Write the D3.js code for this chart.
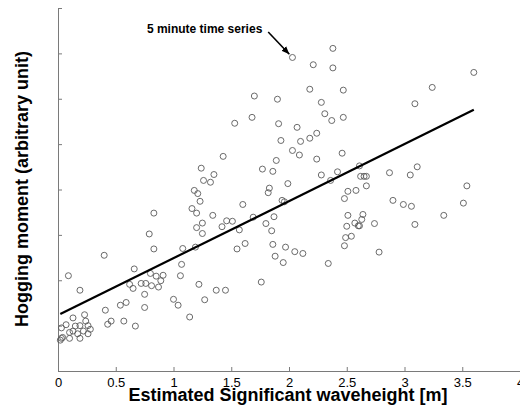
<!DOCTYPE html>
<html>
<head>
<meta charset="utf-8">
<script src="https://cdn.jsdelivr.net/npm/d3@7"></script>
<style>
body { margin: 0; background: #fff; }
svg { display: block; font-family: "Liberation Sans", Arial, sans-serif; }
</style>
</head>
<body>
<svg width="520" height="407"></svg>
<script>
// significant waveheight [m] for each 5 minute series
var waveHeight = [
  2.03, 2.38, 2.21, 2.38, 3.60, 3.24, 3.09, 2.18, 2.47, 1.70,
  1.90, 2.28, 2.31, 2.37, 2.47, 1.68, 1.53, 1.91, 2.07, 2.24,
  2.18, 2.10, 1.93, 2.03, 2.09, 2.46, 1.43, 2.24, 1.89, 1.24,
  1.77, 1.86, 1.35, 1.26, 1.32, 2.28, 2.42, 2.36, 1.99, 1.83,
  1.82, 2.61, 2.62, 2.65, 2.67, 2.87, 3.11, 3.05, 2.67, 2.51,
  2.58, 3.54, 1.18, 1.21, 1.23, 1.16, 1.20, 1.60, 1.94, 1.96,
  2.48, 2.90, 2.99, 3.06, 3.51, 0.83, 1.34, 1.46, 1.51, 1.42,
  1.57, 1.69, 1.87, 1.80, 1.85, 1.25, 1.25, 1.20, 0.79, 3.34,
  3.09, 2.51, 2.64, 2.63, 2.57, 2.60, 2.61, 2.50, 2.74, 2.49,
  2.54, 2.48, 2.78, 1.62, 1.55, 1.86, 1.97, 2.05, 2.12, 1.88,
  1.95, 2.34, 0.83, 1.08, 1.19, 0.40, 0.66, 1.07, 0.09, 1.06,
  0.80, 0.85, 0.91, 0.89, 0.72, 0.76, 0.81, 0.87, 0.62, 0.65,
  0.19, 0.75, 1.00, 1.04, 0.59, 0.54, 0.75, 0.41, 1.14, 1.22,
  1.27, 1.37, 1.45, 1.76, 0.43, 0.46, 0.57, 0.67, 0.13, 0.23,
  0.24, 0.07, 0.03, 0.15, 0.19, 0.26, 0.28, 0.13, 0.22, 0.17,
  0.26, 0.10, 0.03, 0.04, 0.10, 0.19, 0.02
];

// hogging moment (arbitrary unit)
var hogging = [
  6.91, 7.11, 6.75, 6.68, 6.58, 6.25, 5.89, 6.21, 6.19, 6.06,
  5.99, 5.92, 5.67, 5.52, 5.59, 5.59, 5.46, 5.45, 5.37, 5.24,
  5.13, 5.06, 5.08, 4.86, 4.76, 4.80, 4.73, 4.67, 4.64, 4.47,
  4.45, 4.40, 4.33, 4.20, 4.16, 4.32, 4.39, 4.20, 4.13, 4.03,
  3.93, 4.52, 4.29, 4.29, 4.29, 4.37, 4.50, 4.32, 4.08, 3.96,
  3.98, 4.08, 3.98, 3.91, 3.74, 3.58, 3.48, 3.67, 3.76, 3.73,
  3.80, 3.76, 3.67, 3.63, 3.70, 3.48, 3.43, 3.31, 3.30, 3.18,
  3.11, 3.39, 3.40, 3.25, 3.09, 3.26, 3.03, 3.16, 3.02, 3.43,
  3.23, 3.43, 3.45, 3.34, 3.26, 3.20, 3.20, 3.19, 3.25, 2.94,
  2.97, 2.76, 2.62, 2.81, 2.69, 2.79, 2.73, 2.63, 2.59, 2.53,
  2.39, 2.37, 2.69, 2.70, 2.73, 2.55, 2.25, 2.35, 2.10, 2.10,
  2.15, 2.09, 2.11, 1.99, 1.93, 1.93, 1.88, 1.85, 1.91, 1.82,
  1.78, 1.69, 1.58, 1.45, 1.51, 1.45, 1.40, 1.34, 1.19, 1.91,
  1.57, 1.78, 1.78, 1.96, 1.03, 1.10, 1.10, 0.99, 1.17, 1.24,
  1.10, 1.02, 0.95, 0.99, 1.00, 1.00, 0.92, 0.88, 0.88, 0.82,
  0.82, 0.85, 0.72, 0.74, 0.72, 0.72, 0.68
];

// fitted line
var fitSlope = 1.257,
    fitIntercept = 1.23,
    fitRange = [0.02, 3.6];

var xTicks = [0, 0.5, 1, 1.5, 2, 2.5, 3, 3.5, 4];
var yTicks = [0, 1, 2, 3, 4, 5, 6, 7, 8];

var noteText = "5 minute time series",
    notePoint = 0,          // index of the marked series
    noteAt = [0.77, 7.445], // text start, data units
    arrowFrom = [1.82, 7.47];

var margin = {top: 8, right: 0, bottom: 36, left: 58};
var width = 520 - margin.left - margin.right,
    height = 407 - margin.top - margin.bottom;

var svg = d3.select("svg")
  .append("g")
    .attr("transform", "translate(" + margin.left + "," + margin.top + ")");

var x = d3.scaleLinear().domain([0, 4]).range([0, width]);
var y = d3.scaleLinear().domain([0, 8]).range([height, 0]);

var xAxis = svg.append("g")
    .attr("transform", "translate(0," + height + ")")
    .call(d3.axisBottom(x).tickValues(xTicks).tickFormat(d3.format("~g"))
      .tickSizeInner(-4).tickSizeOuter(0).tickPadding(7));
xAxis.selectAll("text").attr("font-size", 13).attr("font-family", null).attr("fill", "#000");

var yAxis = svg.append("g")
    .call(d3.axisLeft(y).tickValues(yTicks).tickFormat("")
      .tickSizeInner(-4).tickSizeOuter(0));

svg.selectAll(".domain, .tick line").attr("stroke", "#7a7a7a");

// points
svg.append("g").selectAll("circle")
    .data(waveHeight)
  .enter().append("circle")
    .attr("cx", function(d) { return x(d); })
    .attr("cy", function(d, i) { return y(hogging[i]); })
    .attr("r", 3)
    .attr("fill", "none")
    .attr("stroke", "#5a5a5a")
    .attr("stroke-width", 0.9);

// regression line
svg.append("line")
    .attr("x1", x(fitRange[0]))
    .attr("y1", y(fitIntercept + fitSlope * fitRange[0]))
    .attr("x2", x(fitRange[1]))
    .attr("y2", y(fitIntercept + fitSlope * fitRange[1]))
    .attr("stroke", "#000")
    .attr("stroke-width", 2.2);

// annotation
svg.append("defs").append("marker")
    .attr("id", "head")
    .attr("viewBox", "0 0 10 10")
    .attr("refX", 10).attr("refY", 5)
    .attr("markerWidth", 8).attr("markerHeight", 8)
    .attr("markerUnits", "userSpaceOnUse")
    .attr("orient", "auto")
  .append("path")
    .attr("d", "M0,1 L10,5 L0,9 Z")
    .attr("fill", "#000");

var px = x(waveHeight[notePoint]), py = y(hogging[notePoint]);
var ax = x(arrowFrom[0]), ay = y(arrowFrom[1]);
var len = Math.sqrt((px - ax) * (px - ax) + (py - ay) * (py - ay));
svg.append("line")
    .attr("x1", ax).attr("y1", ay)
    .attr("x2", px - (px - ax) / len * 4.5)
    .attr("y2", py - (py - ay) / len * 4.5)
    .attr("stroke", "#000")
    .attr("stroke-width", 1.6)
    .attr("marker-end", "url(#head)");

svg.append("text")
    .attr("x", x(noteAt[0]))
    .attr("y", y(noteAt[1]))
    .attr("font-size", 12)
    .attr("font-weight", "bold")
    .text(noteText);

// axis titles
svg.append("text")
    .attr("x", 288 - margin.left)
    .attr("y", height + 30)
    .attr("text-anchor", "middle")
    .attr("font-size", 18)
    .attr("font-weight", "bold")
    .text("Estimated Significant waveheight [m]");

svg.append("text")
    .attr("transform", "translate(" + (28 - margin.left) + "," + (189 - margin.top) + ") rotate(-90)")
    .attr("text-anchor", "middle")
    .attr("font-size", 18)
    .attr("font-weight", "bold")
    .text("Hogging moment (arbitrary unit)");
</script>
</body>
</html>
